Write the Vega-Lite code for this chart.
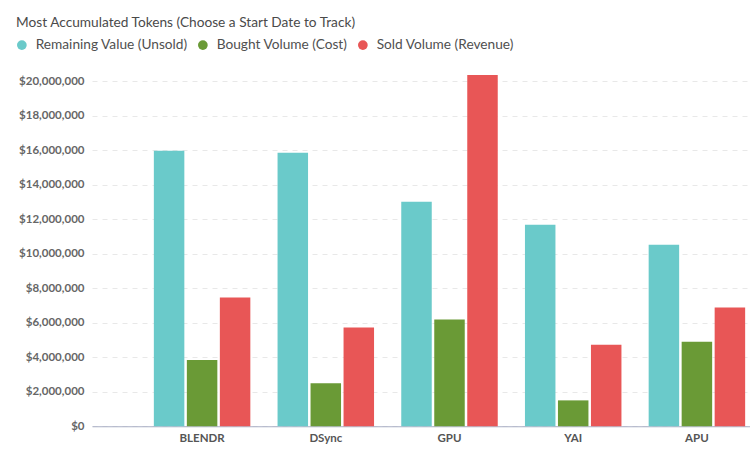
{
  "$schema": "https://vega.github.io/schema/vega-lite/v6.json",
  "width": 658,
  "height": 362.25,
  "autosize": {"type": "none"},
  "padding": {"left": 92, "top": 64, "right": 0, "bottom": 28.75},
  "background": "white",
  "config": {
    "font": "Lato",
    "view": {"stroke": null}
  },
  "title": {
    "text": "Most Accumulated Tokens (Choose a Start Date to Track)",
    "anchor": "start",
    "frame": "group",
    "dx": -76,
    "dy": -4,
    "fontSize": 13.7,
    "fontWeight": "normal",
    "color": "#4a4a4a",
    "font": "Lato"
  },
  "data": {
    "values": [
      {"token": "BLENDR", "series": "Remaining Value (Unsold)", "value": 15970000},
      {"token": "BLENDR", "series": "Bought Volume (Cost)", "value": 3840000},
      {"token": "BLENDR", "series": "Sold Volume (Revenue)", "value": 7470000},
      {"token": "DSync", "series": "Remaining Value (Unsold)", "value": 15860000},
      {"token": "DSync", "series": "Bought Volume (Cost)", "value": 2500000},
      {"token": "DSync", "series": "Sold Volume (Revenue)", "value": 5730000},
      {"token": "GPU", "series": "Remaining Value (Unsold)", "value": 13010000},
      {"token": "GPU", "series": "Bought Volume (Cost)", "value": 6190000},
      {"token": "GPU", "series": "Sold Volume (Revenue)", "value": 20360000},
      {"token": "YAI", "series": "Remaining Value (Unsold)", "value": 11680000},
      {"token": "YAI", "series": "Bought Volume (Cost)", "value": 1500000},
      {"token": "YAI", "series": "Sold Volume (Revenue)", "value": 4720000},
      {"token": "APU", "series": "Remaining Value (Unsold)", "value": 10520000},
      {"token": "APU", "series": "Bought Volume (Cost)", "value": 4900000},
      {"token": "APU", "series": "Sold Volume (Revenue)", "value": 6890000}
    ]
  },
  "mark": {"type": "bar"},
  "encoding": {
    "x": {
      "field": "token",
      "type": "nominal",
      "sort": ["BLENDR", "DSync", "GPU", "YAI", "APU"],
      "scale": {"range": [0, 715], "paddingInner": 0.22, "paddingOuter": 0.5},
      "axis": {
        "title": null,
        "labelAngle": 0,
        "ticks": false,
        "domainColor": "#a8aec4",
        "labelFontWeight": "bold",
        "labelFontSize": 11.5,
        "labelColor": "#555555",
        "labelPadding": 6
      }
    },
    "xOffset": {
      "field": "series",
      "type": "nominal",
      "sort": ["Remaining Value (Unsold)", "Bought Volume (Cost)", "Sold Volume (Revenue)"],
      "scale": {"paddingInner": 0.076}
    },
    "y": {
      "field": "value",
      "type": "quantitative",
      "scale": {"domain": [0, 21000000], "nice": false},
      "axis": {
        "title": null,
        "values": [0, 2000000, 4000000, 6000000, 8000000, 10000000, 12000000, 14000000, 16000000, 18000000, 20000000],
        "format": "$,.0f",
        "domain": false,
        "ticks": false,
        "labelPadding": 8,
        "labelFontWeight": "bold",
        "labelFontSize": 11.5,
        "labelColor": "#666666",
        "gridDash": [5, 5],
        "gridColor": "#e8e8e8"
      }
    },
    "color": {
      "field": "series",
      "type": "nominal",
      "sort": ["Remaining Value (Unsold)", "Bought Volume (Cost)", "Sold Volume (Revenue)"],
      "scale": {
        "domain": ["Remaining Value (Unsold)", "Bought Volume (Cost)", "Sold Volume (Revenue)"],
        "range": ["#6acaca", "#6a9a36", "#e85656"]
      },
      "legend": {
        "title": null,
        "orient": "none",
        "legendX": -77,
        "legendY": -26,
        "direction": "horizontal",
        "symbolType": "circle",
        "symbolSize": 95,
        "symbolStrokeWidth": 0,
        "symbolOpacity": 1,
        "labelFontSize": 13.7,
        "labelColor": "#505050",
        "labelFont": "Lato",
        "labelOffset": 7,
        "columnPadding": 8,
        "padding": 0
      }
    }
  }
}
